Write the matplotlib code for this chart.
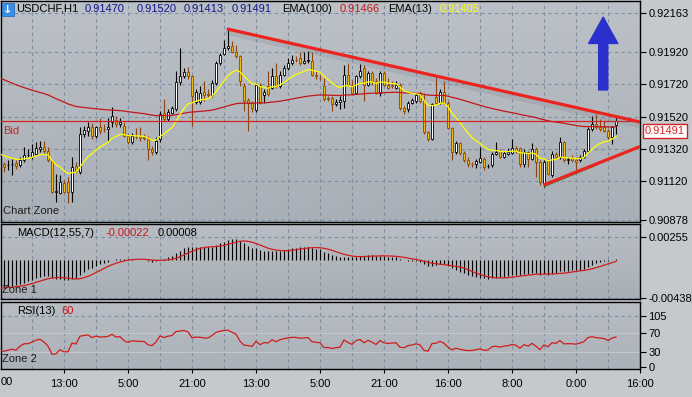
import numpy as np
import pandas as pd
import matplotlib
matplotlib.use('Agg')
import matplotlib.pyplot as plt
from matplotlib import patheffects as pe
from matplotlib import transforms
from matplotlib.patches import FancyArrowPatch, Rectangle
from matplotlib.colors import LinearSegmentedColormap

plt.rcParams['font.family'] = ['Liberation Sans', 'DejaVu Sans']
plt.rcParams['font.size'] = 8

# USDCHF H1 candles (one per hour, left to right)
opn = [0.91207, 0.91227, 0.91217, 0.91223, 0.91232, 0.91217, 0.91252, 0.91279, 0.91268, 0.91289,
       0.91320, 0.91334, 0.91305, 0.91244, 0.91053, 0.91047, 0.91109, 0.91115, 0.91053, 0.91211,
       0.91176, 0.91412, 0.91428, 0.91457, 0.91402, 0.91457, 0.91443, 0.91443, 0.91484, 0.91500,
       0.91473, 0.91463, 0.91402, 0.91361, 0.91396, 0.91402, 0.91391, 0.91381, 0.91320, 0.91299,
       0.91381, 0.91545, 0.91504, 0.91545, 0.91566, 0.91736, 0.91771, 0.91797, 0.91771, 0.91613,
       0.91609, 0.91674, 0.91658, 0.91654, 0.91730, 0.91853, 0.91908, 0.91945, 0.91961, 0.91924,
       0.91898, 0.91709, 0.91621, 0.91607, 0.91560, 0.91719, 0.91654, 0.91709, 0.91699, 0.91771,
       0.91709, 0.91781, 0.91822, 0.91853, 0.91873, 0.91883, 0.91853, 0.91863, 0.91867, 0.91781,
       0.91760, 0.91709, 0.91633, 0.91633, 0.91601, 0.91613, 0.91617, 0.91781, 0.91719, 0.91668,
       0.91771, 0.91822, 0.91719, 0.91791, 0.91740, 0.91668, 0.91791, 0.91719, 0.91719, 0.91699,
       0.91719, 0.91572, 0.91566, 0.91607, 0.91617, 0.91658, 0.91617, 0.91422, 0.91381, 0.91642,
       0.91607, 0.91674, 0.91607, 0.91449, 0.91299, 0.91355, 0.91293, 0.91252, 0.91227, 0.91227,
       0.91238, 0.91258, 0.91211, 0.91217, 0.91289, 0.91309, 0.91268, 0.91289, 0.91293, 0.91326,
       0.91326, 0.91227, 0.91299, 0.91258, 0.91320, 0.91238, 0.91105, 0.91248, 0.91156, 0.91289,
       0.91268, 0.91361, 0.91252, 0.91264, 0.91252, 0.91248, 0.91268, 0.91309, 0.91443, 0.91473,
       0.91453, 0.91457, 0.91432, 0.91391, 0.91470]
high = [0.91248, 0.91238, 0.91248, 0.91258, 0.91248, 0.91268, 0.91330, 0.91320, 0.91350, 0.91361,
        0.91367, 0.91371, 0.91334, 0.91248, 0.91166, 0.91156, 0.91125, 0.91145, 0.91268, 0.91238,
        0.91453, 0.91463, 0.91484, 0.91478, 0.91463, 0.91514, 0.91473, 0.91514, 0.91580, 0.91525,
        0.91514, 0.91484, 0.91412, 0.91416, 0.91449, 0.91457, 0.91412, 0.91402, 0.91340, 0.91391,
        0.91555, 0.91627, 0.91566, 0.91586, 0.91801, 0.91945, 0.91822, 0.91826, 0.91781, 0.91689,
        0.91709, 0.91744, 0.91689, 0.91750, 0.91867, 0.91914, 0.91996, 0.92058, 0.91990, 0.91965,
        0.91904, 0.91730, 0.91637, 0.91617, 0.91730, 0.91730, 0.91689, 0.91801, 0.91822, 0.91853,
        0.91801, 0.91842, 0.91883, 0.91904, 0.91894, 0.91920, 0.91924, 0.91929, 0.91920, 0.91801,
        0.91781, 0.91760, 0.91648, 0.91648, 0.91627, 0.91648, 0.91842, 0.91853, 0.91750, 0.91781,
        0.91847, 0.91838, 0.91801, 0.91806, 0.91760, 0.91801, 0.91801, 0.91760, 0.91744, 0.91740,
        0.91730, 0.91586, 0.91617, 0.91637, 0.91668, 0.91678, 0.91662, 0.91432, 0.91607, 0.91771,
        0.91689, 0.91740, 0.91617, 0.91453, 0.91371, 0.91361, 0.91305, 0.91268, 0.91238, 0.91258,
        0.91330, 0.91268, 0.91227, 0.91299, 0.91361, 0.91320, 0.91305, 0.91326, 0.91381, 0.91340,
        0.91334, 0.91320, 0.91309, 0.91354, 0.91330, 0.91248, 0.91252, 0.91258, 0.91309, 0.91299,
        0.91396, 0.91371, 0.91268, 0.91279, 0.91268, 0.91279, 0.91320, 0.91453, 0.91525, 0.91535,
        0.91504, 0.91494, 0.91443, 0.91463, 0.91520]
low = [0.91186, 0.91176, 0.91186, 0.91156, 0.91197, 0.91207, 0.91238, 0.91268, 0.91258, 0.91279,
       0.91299, 0.91289, 0.91238, 0.91043, 0.90992, 0.91039, 0.91043, 0.90981, 0.90992, 0.91170,
       0.91166, 0.91391, 0.91402, 0.91381, 0.91387, 0.91412, 0.91422, 0.91371, 0.91457, 0.91453,
       0.91453, 0.91391, 0.91350, 0.91350, 0.91381, 0.91371, 0.91375, 0.91248, 0.91279, 0.91289,
       0.91361, 0.91494, 0.91494, 0.91535, 0.91555, 0.91719, 0.91760, 0.91756, 0.91463, 0.91601,
       0.91596, 0.91617, 0.91642, 0.91642, 0.91719, 0.91842, 0.91904, 0.91935, 0.91914, 0.91883,
       0.91709, 0.91555, 0.91432, 0.91551, 0.91551, 0.91596, 0.91607, 0.91648, 0.91689, 0.91699,
       0.91699, 0.91771, 0.91812, 0.91842, 0.91859, 0.91842, 0.91847, 0.91853, 0.91771, 0.91756,
       0.91750, 0.91617, 0.91617, 0.91555, 0.91586, 0.91566, 0.91572, 0.91709, 0.91658, 0.91658,
       0.91760, 0.91617, 0.91709, 0.91719, 0.91658, 0.91648, 0.91709, 0.91689, 0.91699, 0.91689,
       0.91560, 0.91539, 0.91551, 0.91596, 0.91607, 0.91607, 0.91412, 0.91371, 0.91375, 0.91596,
       0.91596, 0.91596, 0.91443, 0.91248, 0.91289, 0.91279, 0.91238, 0.91207, 0.91207, 0.91203,
       0.91232, 0.91191, 0.91203, 0.91207, 0.91279, 0.91264, 0.91264, 0.91279, 0.91285, 0.91293,
       0.91207, 0.91207, 0.91207, 0.91248, 0.91145, 0.91094, 0.91084, 0.91156, 0.91145, 0.91258,
       0.91258, 0.91238, 0.91227, 0.91238, 0.91186, 0.91238, 0.91264, 0.91299, 0.91432, 0.91443,
       0.91432, 0.91422, 0.91381, 0.91350, 0.91413]
close = [0.91223, 0.91207, 0.91218, 0.91227, 0.91211, 0.91252, 0.91279, 0.91281, 0.91299, 0.91324,
         0.91334, 0.91305, 0.91252, 0.91053, 0.91059, 0.91115, 0.91053, 0.91053, 0.91207, 0.91182,
         0.91412, 0.91437, 0.91457, 0.91402, 0.91453, 0.91432, 0.91441, 0.91453, 0.91525, 0.91473,
         0.91484, 0.91402, 0.91361, 0.91402, 0.91394, 0.91387, 0.91389, 0.91320, 0.91299, 0.91371,
         0.91539, 0.91504, 0.91551, 0.91572, 0.91736, 0.91771, 0.91797, 0.91771, 0.91648, 0.91674,
         0.91670, 0.91654, 0.91656, 0.91730, 0.91853, 0.91904, 0.91945, 0.91961, 0.91924, 0.91894,
         0.91740, 0.91617, 0.91607, 0.91572, 0.91719, 0.91607, 0.91674, 0.91658, 0.91771, 0.91709,
         0.91781, 0.91822, 0.91853, 0.91873, 0.91871, 0.91853, 0.91863, 0.91873, 0.91781, 0.91771,
         0.91758, 0.91627, 0.91631, 0.91596, 0.91613, 0.91621, 0.91781, 0.91719, 0.91668, 0.91771,
         0.91806, 0.91719, 0.91791, 0.91740, 0.91668, 0.91791, 0.91719, 0.91699, 0.91709, 0.91719,
         0.91572, 0.91555, 0.91607, 0.91621, 0.91654, 0.91617, 0.91422, 0.91381, 0.91596, 0.91607,
         0.91674, 0.91607, 0.91449, 0.91299, 0.91355, 0.91293, 0.91252, 0.91223, 0.91225, 0.91244,
         0.91264, 0.91207, 0.91213, 0.91289, 0.91299, 0.91268, 0.91293, 0.91299, 0.91326, 0.91305,
         0.91227, 0.91299, 0.91258, 0.91320, 0.91238, 0.91115, 0.91238, 0.91166, 0.91289, 0.91268,
         0.91361, 0.91248, 0.91254, 0.91252, 0.91238, 0.91268, 0.91309, 0.91443, 0.91473, 0.91453,
         0.91443, 0.91432, 0.91391, 0.91457, 0.91491]

# indicator levels at the left edge of the screen (history before the first bar)
ema100_start = 0.91771
ema13_start = 0.91299
ema12_start = 0.91240
ema55_start = 0.91580
rsi_gain_start = 0.00010
rsi_loss_start = 0.00020

price_ticks = [0.92163, 0.91920, 0.91720, 0.91520, 0.91320, 0.91120, 0.90878]
macd_ticks = [0.00255, -0.00438]
rsi_ticks = [105, 70, 30, 0]
time_labels = ['13:00', '5:00', '21:00', '13:00', '5:00', '21:00', '16:00', '8:00', '0:00', '16:00']
bid = 0.91491

# hand drawn objects on the chart (bar index, price)
upper_line = ([57, 160], [0.92064, 0.91487])
lower_line = ([136.2, 160], [0.91098, 0.91334])
arrow_bar, arrow_from, arrow_to = 150.8, 0.91686, 0.92139


def ema(values, period, start):
    alpha = 2.0 / (period + 1)
    level = start
    out = []
    for v in values:
        level += alpha * (v - level)
        out.append(level)
    return np.array(out)


def rsi(values, period, gain, loss):
    diffs = np.diff(values, prepend=values[0])
    out = []
    for d in diffs:
        gain = (gain * (period - 1) + max(d, 0)) / period
        loss = (loss * (period - 1) + max(-d, 0)) / period
        out.append(100 - 100 / (1 + gain / loss))
    return np.array(out)


closes = np.array(close)
bars = np.arange(len(closes))
ema100 = ema(closes, 100, ema100_start)
ema13 = ema(closes, 13, ema13_start)
macd = ema(closes, 12, ema12_start) - ema(closes, 55, ema55_start)
signal = pd.Series(macd).rolling(7, min_periods=1).mean().values
rsi13 = rsi(closes, 13, rsi_gain_start, rsi_loss_start)

W, H = 692, 397
fig = plt.figure(figsize=(W / 100, H / 100), dpi=100)
fig.patch.set_facecolor('#c5c9ce')


def rect(x0, y0, x1, y1):
    return [x0 / W, 1 - y1 / H, (x1 - x0) / W, (y1 - y0) / H]


def shade(a, top, bottom):
    grad = np.linspace(0, 1, 256).reshape(-1, 1)
    cmap = LinearSegmentedColormap.from_list('bg', [top, bottom])
    a.imshow(grad, extent=[0, 1, 0, 1], transform=a.transAxes, cmap=cmap,
             aspect='auto', zorder=0, interpolation='bilinear')


ax = fig.add_axes(rect(1, 1, 640, 222))
axm = fig.add_axes(rect(1, 224, 640, 299))
axr = fig.add_axes(rect(1, 302, 640, 369))

grid_kw = dict(color='#7b8ea3', lw=0.8, ls=(0, (3, 3)), zorder=1)
for a, top, bot in [(ax, '#bcc1c7', '#a9afb6'), (axm, '#b9bec4', '#a9afb6'), (axr, '#b9bec4', '#abb1b8')]:
    shade(a, top, bot)
    for g in range(8, 160, 8):
        a.axvline(g, **grid_kw)
    for s in a.spines.values():
        s.set_color('black')
        s.set_linewidth(1)
    a.yaxis.tick_right()
    a.tick_params(axis='y', direction='out', length=4, width=0.8, pad=2, labelsize=8)
    a.set_xlim(0.25, 160)

# main price panel
for p in price_ticks:
    ax.axhline(p, **grid_kw)
up = closes > np.array(opn)
down = closes < np.array(opn)
body_col = ['white' if u else ('#f5b90d' if d else 'black') for u, d in zip(up, down)]
edge_col = ['#8e4410' if d else 'black' for d in down]
ax.vlines(bars, low, high, colors=edge_col, lw=0.8, zorder=3)
ax.bar(bars, closes - np.array(opn), bottom=opn, width=0.72, color=body_col,
       edgecolor=edge_col, lw=0.6, zorder=4)
ax.plot(bars, ema100, color='#c2161b', lw=0.9, zorder=5)
ax.plot(bars, ema13, color='#ffff00', lw=0.9, zorder=5)
ax.axhline(bid, color='#d42222', lw=0.9, zorder=5)

ax.plot(*upper_line, color='#ec2420', lw=2.3, zorder=6, solid_capstyle='round',
        path_effects=[pe.SimpleLineShadow(offset=(0, -2.5), shadow_color='#70757c', alpha=0.18, linewidth=4),
                      pe.Normal()])
green_tr = transforms.offset_copy(ax.transData, fig=fig, x=0, y=-1.2, units='points')
ax.plot([lower_line[0][0], 149], [lower_line[1][0], 0.91228], color='#1f8a2a', lw=0.9,
        zorder=6, transform=green_tr)
ax.plot(*lower_line, color='#ec2420', lw=2.3, zorder=7, solid_capstyle='round')
ax.add_patch(FancyArrowPatch((arrow_bar, arrow_from), (arrow_bar, arrow_to),
                             arrowstyle='simple,head_length=1.9,head_width=2.1,tail_width=0.65',
                             mutation_scale=10, color='#2a30cc', zorder=8, shrinkA=0, shrinkB=0))

ax.set_ylim(0.90865, 0.92239)
ax.set_yticks(price_ticks)
ax.set_yticklabels(['%.5f' % p for p in price_ticks])
ax.set_xticks([])
# the price tag hangs just below the bid line on the price scale
bt = transforms.offset_copy(transforms.blended_transform_factory(ax.transAxes, ax.transData),
                            fig=fig, x=0, y=-3.5, units='points')
ax.text(1.008, bid, '%.5f' % bid, transform=bt, color='#d42222', va='top', ha='left',
        fontsize=8, clip_on=False, zorder=9,
        bbox=dict(boxstyle='square,pad=0.2', fc='white', ec='#d42222', lw=1))

# MACD panel
for p in macd_ticks:
    axm.axhline(p, **grid_kw)
axm.vlines(bars, 0, macd, colors='black', lw=0.8, zorder=3)
axm.plot(bars, signal, color='#d01c1c', lw=0.9, zorder=4)
axm.set_ylim(-0.00453, 0.00408)
axm.set_yticks(macd_ticks)
axm.set_yticklabels(['%.5f' % p for p in macd_ticks])
axm.set_xticks([])

# RSI panel
axr.axhline(105, **grid_kw)
axr.axhline(70, color='#c3c7cc', lw=0.8, zorder=1)
axr.axhline(30, color='#c3c7cc', lw=0.8, zorder=1)
axr.plot(bars, rsi13, color='#d01c1c', lw=0.9, zorder=4)
axr.set_ylim(-4.7, 133.2)
axr.set_yticks(rsi_ticks)
axr.set_yticklabels([str(v) for v in rsi_ticks])
axr.set_xticks(range(16, 161, 16))
axr.set_xticklabels(time_labels)
axr.tick_params(axis='x', direction='out', length=3, width=0.8, pad=4, labelsize=8)


def label(x, y, s, color='black', **kw):
    fig.text(x / W, 1 - y / H, s, color=color, va='center', ha='left', fontsize=8, **kw)


fig.patches.append(Rectangle((2 / W, 1 - 16 / H), 12 / W, 13 / H, transform=fig.transFigure,
                             facecolor='#3b8fe2', edgecolor='#2a6fc0', lw=0.6, zorder=5))
fig.text(8 / W, 1 - 9.5 / H, '\u2193', color='white', ha='center', va='center',
         fontsize=8, fontweight='bold', family='DejaVu Sans', zorder=6)
label(16, 8.5, 'USDCHF,H1')
label(85, 8.5, '0.91470', '#10148c')
label(137, 8.5, '0.91520', '#10148c')
label(184, 8.5, '0.91413', '#10148c')
label(232, 8.5, '0.91491', '#10148c')
label(282, 8.5, 'EMA(100)')
label(340, 8.5, '0.91466', '#cc1414')
label(388, 8.5, 'EMA(13)')
label(440, 8.5, '0.91405', '#ffff00')
label(3, 130.5, 'Bid', '#c62828')
label(3, 211.5, 'Chart Zone', '#1e1e1e')
label(17, 232.5, 'MACD(12,55,7)')
label(105, 232.5, '-0.00022', '#cc1414')
label(158, 232.5, '0.00008')
label(2, 290, 'Zone 1', '#1e1e1e')
label(17, 311, 'RSI(13)')
label(61, 311, '60', '#cc1414')
label(2, 359, 'Zone 2', '#1e1e1e')
label(1, 382, '00')

fig.savefig('out.png', dpi=100, facecolor=fig.get_facecolor())
